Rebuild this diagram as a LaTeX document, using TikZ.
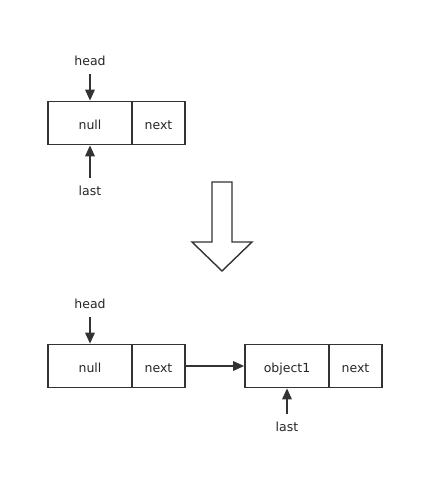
\documentclass[tikz,border=0pt]{standalone}
\usepackage{fontspec}
\setmainfont{DejaVu Sans}
\usetikzlibrary{arrows.meta}
\begin{document}
\begin{tikzpicture}[x=1pt,y=1pt,
  cell/.style={draw=black!80, line width=1.7pt, minimum height=43pt, inner sep=0pt, text height=12pt, text depth=0pt, font=\fontsize{12.5}{14}\selectfont, text=black!85},
  wide/.style={cell, minimum width=84pt},
  narrow/.style={cell, minimum width=53pt},
  lbl/.style={inner sep=0pt, font=\fontsize{12.5}{14}\selectfont, text=black!85},
  arr/.style={draw=black!80, line width=1.7pt, -{Triangle[length=11pt,width=9.5pt]}}]
\useasboundingbox (0,0) rectangle (444,-503);
% top state
\node[wide] (n1) at (90,-123) {null};
\node[narrow] (x1) at (158.5,-123) {next};
\node[lbl] (h1) at (90,-61) {head};
\node[lbl] (l1) at (90,-191) {last};
\draw[arr, shorten <=8pt] (h1.south) -- (n1.north);
\draw[arr, shorten <=8pt] (l1.north) -- (n1.south);
% big arrow
\draw[draw=black!80, line width=1.4pt, line join=miter]
  (212,-182) -- (232,-182) -- (232,-242) -- (252,-242) -- (222,-271) -- (192,-242) -- (212,-242) -- cycle;
% bottom state
\node[wide] (n2) at (90,-366) {null};
\node[narrow] (x2) at (158.5,-366) {next};
\node[lbl] (h2) at (90,-304) {head};
\draw[arr, shorten <=8pt] (h2.south) -- (n2.north);
\node[wide] (o2) at (287,-366) {object1};
\node[narrow] (y2) at (355.5,-366) {next};
\node[lbl] (l2) at (287,-427) {last};
\draw[arr, shorten <=8pt] (l2.north) -- (o2.south);
\draw[arr] (x2.east) -- (o2.west);
\end{tikzpicture}
\end{document}
